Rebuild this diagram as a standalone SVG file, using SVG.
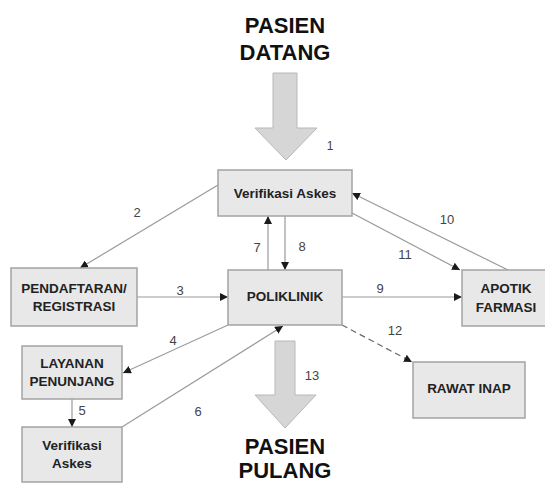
<svg xmlns="http://www.w3.org/2000/svg" width="545" height="484" viewBox="0 0 545 484">
<style>
.box{fill:#e8e8e8;stroke:#a3a3a3;stroke-width:1.5}
.bt{font-family:"Liberation Sans",Arial,sans-serif;font-weight:bold;font-size:13.5px;fill:#222;text-anchor:middle}
.title{font-family:"Liberation Sans",Arial,sans-serif;font-weight:bold;font-size:22px;fill:#111;text-anchor:middle}
.num{font-family:"Liberation Sans",Arial,sans-serif;font-size:13px;fill:#444;text-anchor:middle}
.ln{stroke:#9a9a9a;stroke-width:1.2;fill:none;marker-end:url(#ah)}
.big{fill:#d6d6d6;stroke:#b8b8b8;stroke-width:1}
</style>
<defs>
<marker id="ah" markerUnits="userSpaceOnUse" markerWidth="9" markerHeight="8" refX="8" refY="4" orient="auto">
<path d="M0,0 L8,4 L0,8 Z" fill="#1a1a1a"/>
</marker>
</defs>
<rect width="545" height="484" fill="#ffffff"/>
<g id="title-top">
<text class="title" x="285" y="33">PASIEN</text>
<text class="title" x="285" y="60">DATANG</text>
<polygon class="big" points="273,73 297,73 297,128 317,128 286,160 255,128 273,128"/>
<text class="num" x="330" y="150" style="font-size:12px">1</text>
</g>
<g id="title-bottom">
<polygon class="big" points="275,341 295,341 295,395 316,395 285,428 255,395 275,395"/>
<text class="num" x="312" y="380">13</text>
<text class="title" x="285" y="454">PASIEN</text>
<text class="title" x="285" y="478">PULANG</text>
</g>
<g id="connectors">
<line class="ln" x1="218" y1="185" x2="80" y2="268"/>
<line class="ln" x1="137" y1="297" x2="228" y2="297"/>
<line class="ln" x1="268" y1="270" x2="268" y2="216"/>
<line class="ln" x1="285" y1="216" x2="285" y2="270"/>
<line class="ln" x1="342" y1="297" x2="462" y2="297"/>
<line class="ln" x1="508" y1="270" x2="352" y2="193"/>
<line class="ln" x1="352" y1="213" x2="460" y2="270"/>
<line class="ln" x1="228" y1="325" x2="123" y2="373"/>
<line class="ln" x1="72" y1="399" x2="72" y2="427"/>
<line class="ln" x1="122" y1="427" x2="283" y2="326"/>
<line class="ln" x1="342" y1="325" x2="412" y2="362" style="stroke:#666;stroke-dasharray:6,4"/>
<text class="num" x="137" y="217">2</text>
<text class="num" x="180" y="295">3</text>
<text class="num" x="257" y="252">7</text>
<text class="num" x="302" y="251">8</text>
<text class="num" x="447" y="224">10</text>
<text class="num" x="405" y="259">11</text>
<text class="num" x="380" y="293">9</text>
<text class="num" x="395" y="335">12</text>
<text class="num" x="173" y="345">4</text>
<text class="num" x="82" y="415">5</text>
<text class="num" x="198" y="416">6</text>
</g>
<g id="verifikasi-askes">
<rect class="box" x="218" y="170" width="134" height="46"/>
<text class="bt" x="285" y="198">Verifikasi Askes</text>
</g>
<g id="pendaftaran">
<rect class="box" x="11" y="268" width="126" height="58"/>
<text class="bt" x="74" y="293">PENDAFTARAN/</text>
<text class="bt" x="74" y="311">REGISTRASI</text>
</g>
<g id="poliklinik">
<rect class="box" x="228" y="270" width="114" height="55"/>
<text class="bt" x="285" y="301">POLIKLINIK</text>
</g>
<g id="apotik">
<rect class="box" x="462" y="270" width="88" height="56"/>
<text class="bt" x="506" y="293">APOTIK</text>
<text class="bt" x="506" y="312">FARMASI</text>
</g>
<g id="layanan">
<rect class="box" x="22" y="346" width="100" height="53"/>
<text class="bt" x="72" y="368">LAYANAN</text>
<text class="bt" x="72" y="386">PENUNJANG</text>
</g>
<g id="verifikasi-bawah">
<rect class="box" x="22" y="427" width="100" height="55"/>
<text class="bt" x="72" y="450">Verifikasi</text>
<text class="bt" x="72" y="468">Askes</text>
</g>
<g id="rawat-inap">
<rect class="box" x="413" y="362" width="112" height="56"/>
<text class="bt" x="469" y="393">RAWAT INAP</text>
</g>
</svg>
